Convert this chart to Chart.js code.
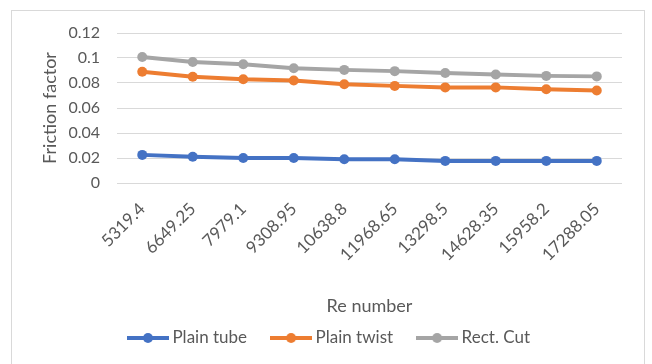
<!DOCTYPE html>
<html>
<head>
<meta charset="utf-8">
<script src="https://cdn.jsdelivr.net/npm/chart.js@4.4.1/dist/chart.umd.min.js"></script>
<style>
  html, body { margin: 0; padding: 0; background: #fff; }
  #wrap { position: relative; width: 652px; height: 364px; }
  #frame { position: absolute; left: 11px; top: 10px; width: 632px; height: 360px;
           border: 1px solid #d9d9d9; pointer-events: none; }
</style>
</head>
<body>
<div id="wrap">
  <canvas id="chart" width="652" height="364"></canvas>
  <div id="frame"></div>
</div>
<script>
const reNumbers = ["5319.4", "6649.25", "7979.1", "9308.95", "10638.8", "11968.65",
                   "13298.5", "14628.35", "15958.2", "17288.05"];
const plainTube = [0.0225, 0.021, 0.020, 0.020, 0.019, 0.019, 0.0177, 0.0177, 0.0177, 0.0177];
const plainTwist = [0.089, 0.085, 0.083, 0.082, 0.079, 0.0777, 0.0765, 0.0765, 0.075, 0.074];
const rectCut = [0.1008, 0.0968, 0.095, 0.0918, 0.0905, 0.0895, 0.088, 0.0868, 0.0857, 0.0853];
const yTicks = [0, 0.02, 0.04, 0.06, 0.08, 0.1, 0.12];

const textColor = "#595959";
const gridColor = "#d9d9d9";

// little line + dot picture for each legend entry
function legendMark(color) {
  const c = document.createElement("canvas");
  c.width = 42; c.height = 12;
  const g = c.getContext("2d");
  g.strokeStyle = color;
  g.lineWidth = 4;
  g.beginPath(); g.moveTo(0, 6); g.lineTo(42, 6); g.stroke();
  g.fillStyle = color;
  g.beginPath(); g.arc(21, 6, 5, 0, Math.PI * 2); g.fill();
  return c;
}

function series(label, data, color) {
  return {
    label: label,
    data: data,
    borderColor: color,
    backgroundColor: color,
    borderWidth: 4,
    pointRadius: 5,
    pointBackgroundColor: color,
    pointBorderColor: color,
    pointBorderWidth: 0,
    tension: 0,
    mark: legendMark(color)
  };
}

new Chart(document.getElementById("chart"), {
  type: "line",
  data: {
    labels: reNumbers,
    datasets: [
      series("Plain tube", plainTube, "#4472c4"),
      series("Plain twist", plainTwist, "#ed7d31"),
      series("Rect. Cut", rectCut, "#a5a5a5")
    ]
  },
  options: {
    responsive: false,
    animation: false,
    layout: { padding: { left: 40, right: 30, top: 33, bottom: 7.5 } },
    plugins: {
      tooltip: { enabled: false },
      legend: {
        position: "bottom",
        labels: {
          color: textColor,
          font: { family: "Lato", size: 17 },
          usePointStyle: true,
          pointStyleWidth: 32,
          padding: 28,
          generateLabels(chart) {
            return chart.data.datasets.map((ds, i) => ({
              text: ds.label,
              fontColor: textColor,
              pointStyle: ds.mark,
              datasetIndex: i,
              hidden: false,
              lineWidth: 0,
              strokeStyle: ds.borderColor,
              fillStyle: ds.borderColor
            }));
          }
        }
      }
    },
    scales: {
      x: {
        offset: true,
        grid: { display: false },
        border: { display: false },
        ticks: {
          color: textColor,
          font: { family: "Lato", size: 17 },
          minRotation: 45,
          maxRotation: 45,
          padding: 8,
          autoSkip: false
        },
        title: {
          display: true,
          text: "Re number",
          color: textColor,
          font: { family: "Lato", size: 18, lineHeight: 1 },
          padding: { top: 0, bottom: -13.5 }
        },
        afterFit(scale) { scale.height = 118.5; }
      },
      y: {
        min: 0,
        max: 0.12,
        afterBuildTicks(scale) { scale.ticks = yTicks.map(v => ({ value: v })); },
        grid: { color: gridColor, lineWidth: 1, drawTicks: false },
        border: { display: false },
        ticks: {
          color: textColor,
          font: { family: "Lato", size: 16 },
          padding: 17,
          callback: v => String(+v.toFixed(2))
        },
        title: {
          display: true,
          text: "Friction factor",
          color: textColor,
          font: { family: "Lato", size: 18, lineHeight: 1 },
          padding: { top: 1, bottom: 0 }
        },
        afterFit(scale) { scale.width = 77; }
      }
    }
  }
});
</script>
</body>
</html>
